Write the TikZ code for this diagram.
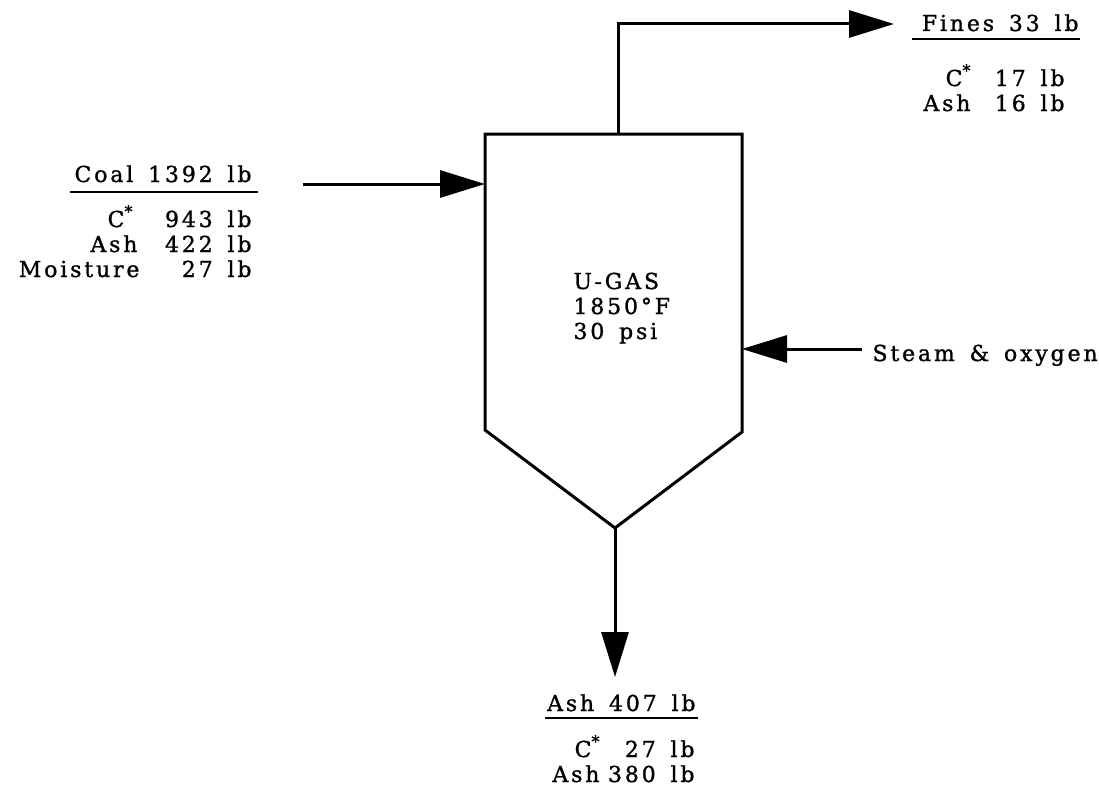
\documentclass[tikz,border=0pt]{standalone}
\usepackage{fontspec}
\setmainfont{DejaVu Serif}[LetterSpace=13,FakeBold=1.2,WordSpace=1.5]
\usetikzlibrary{arrows.meta}
\newcommand{\cstar}{C\raisebox{0.45em}{\fontsize{16}{16}\selectfont *}}
\begin{document}
\begin{tikzpicture}[x=1pt,y=-1pt,line width=3pt,
  txt/.style={font=\fontsize{22}{26}\selectfont,inner sep=0pt},
  flow/.style={-{Triangle[length=45pt,width=27pt]},line width=3pt},
  ul/.style={line width=2.2pt}]
\useasboundingbox (0,0) rectangle (1099,792);
% vessel
\coordinate (tl) at (485,134);
\coordinate (tr) at (742,134);
\coordinate (br) at (742,432);
\coordinate (apex) at (615,528);
\coordinate (bl) at (485,430);
\draw[line join=miter] (tl) -- (tr) -- (br) -- (apex) -- (bl) -- cycle;
% connectors
\coordinate (coalsrc) at (303,184);
\coordinate (coalin) at (485,184);
\draw[flow] (coalsrc) -- (coalin);
\coordinate (topout) at (618,134);
\coordinate (topcorner) at (618,24);
\coordinate (finestip) at (894,24);
\draw[flow] (topout) -- (topcorner) -- (finestip);
\coordinate (steamsrc) at (862,349);
\coordinate (steamin) at (742,349);
\draw[flow] (steamsrc) -- (steamin);
\coordinate (ashtip) at (615,677);
\draw[flow] (apex) -- (ashtip);
% vessel text
\node[txt,anchor=base west] (ugas) at (572,289) {U-GAS};
\node[txt,anchor=base west] (temp) at (572,314) {1850°F};
\node[txt,anchor=base west] (pres) at (572,339) {30 psi};
\node[txt,anchor=base west] (steam) at (871,361) {Steam \& oxygen};
% coal
\node[txt,anchor=base east] (coalh) at (253,182) {Coal 1392 lb};
\coordinate (coalula) at (70,192);
\coordinate (coalulb) at (258,192);
\draw[ul] (coalula) -- (coalulb);
\node[txt,anchor=base east] (coalc) at (134,227) {\cstar};
\node[txt,anchor=base east] (coalcv) at (253,227) {943 lb};
\node[txt,anchor=base east] (coala) at (139,252) {Ash};
\node[txt,anchor=base east] (coalav) at (253,252) {422 lb};
\node[txt,anchor=base east] (coalm) at (141,277) {Moisture};
\node[txt,anchor=base east] (coalmv) at (253,277) {27 lb};
% fines
\node[txt,anchor=base east] (finesh) at (1080,31) {Fines 33 lb};
\coordinate (finesula) at (912,39);
\coordinate (finesulb) at (1080,39);
\draw[ul] (finesula) -- (finesulb);
\node[txt,anchor=base east] (finesc) at (972,86) {\cstar};
\node[txt,anchor=base east] (finescv) at (1066,86) {17 lb};
\node[txt,anchor=base east] (finesa) at (972,111) {Ash};
\node[txt,anchor=base east] (finesav) at (1066,111) {16 lb};
% ash
\node[txt,anchor=base east] (ashh) at (697,711) {Ash 407 lb};
\coordinate (ashula) at (545,718);
\coordinate (ashulb) at (698,718);
\draw[ul] (ashula) -- (ashulb);
\node[txt,anchor=base east] (ashc) at (601,757) {\cstar};
\node[txt,anchor=base east] (ashcv) at (696,757) {27 lb};
\node[txt,anchor=base east] (asha) at (601,782) {Ash};
\node[txt,anchor=base east] (ashav) at (696,782) {380 lb};
\end{tikzpicture}
\end{document}
